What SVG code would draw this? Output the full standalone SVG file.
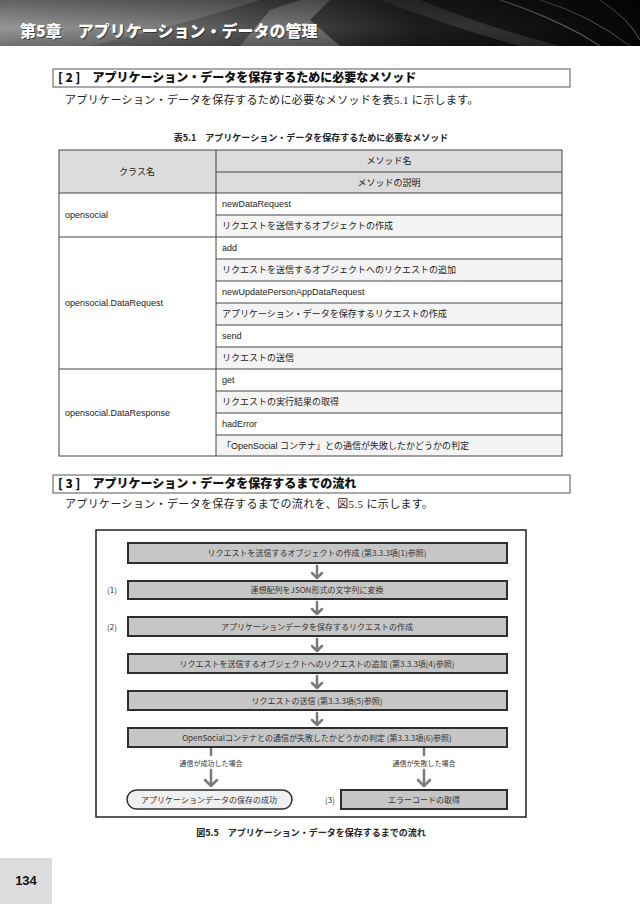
<svg xmlns="http://www.w3.org/2000/svg" width="640" height="904" viewBox="0 0 640 904">
<defs>
<linearGradient id="hdr" x1="0" y1="0" x2="1" y2="0">
<stop offset="0" stop-color="#8c8c8c"/>
<stop offset="0.35" stop-color="#5a5a5a"/>
<stop offset="0.65" stop-color="#1e1e1e"/>
<stop offset="1" stop-color="#050505"/>
</linearGradient>
<linearGradient id="hdr2" x1="0" y1="0" x2="0" y2="1">
<stop offset="0" stop-color="#000" stop-opacity="0.35"/>
<stop offset="0.6" stop-color="#000" stop-opacity="0"/>
<stop offset="1" stop-color="#000" stop-opacity="0.25"/>
</linearGradient>
<style>
.ser{font-family:"Liberation Serif","Noto Sans CJK JP",serif;font-size:11px;fill:#222;letter-spacing:0.35px;}
.sec{font-family:"Noto Sans CJK JP",sans-serif;font-size:12px;font-weight:900;fill:#111;}
.secbox{fill:none;stroke:#555;stroke-width:1;}
.cap{font-family:"Noto Sans CJK JP",sans-serif;font-size:9px;font-weight:bold;fill:#222;}
.cell{font-family:"Liberation Sans","Noto Sans CJK JP",sans-serif;font-size:9px;fill:#222;}
.hd{fill:#dcdcdc;}
.dsc{fill:#f4f4f4;}
.grid{stroke:#444;stroke-width:1;fill:none;}
.fbox{fill:#c6c6c6;stroke:#2e2e2e;stroke-width:2;}
.ftxt{font-family:"Noto Sans CJK JP",sans-serif;font-size:8px;fill:#333;text-anchor:middle;}
.small{font-family:"Noto Sans CJK JP",sans-serif;font-size:7px;fill:#333;text-anchor:middle;}
.arr{stroke:#7a7a7a;stroke-width:2.5;fill:none;stroke-linecap:round;stroke-linejoin:round;}
</style>
</defs>

<!-- header band -->
<g id="header">
<rect x="0" y="0" width="640" height="46" fill="url(#hdr)"/>
<path d="M0 0 L260 0 Q200 20 90 46 L0 46 Z" fill="#a8a8a8" opacity="0.35"/>
<path d="M240 46 L270 10 L300 0 L330 0 L310 20 L340 46 Z" fill="#9a9a9a" opacity="0.55"/>
<path d="M380 0 Q460 30 520 46 L560 46 Q480 25 420 0 Z" fill="#444" opacity="0.6"/>
<path d="M500 0 Q560 20 600 46" stroke="#888" stroke-width="1.2" fill="none" opacity="0.7"/>
<path d="M540 0 Q590 15 630 46" stroke="#777" stroke-width="1" fill="none" opacity="0.7"/>
<path d="M600 0 Q630 20 640 40" stroke="#999" stroke-width="1" fill="none" opacity="0.6"/>
<rect x="0" y="0" width="640" height="46" fill="url(#hdr2)"/>
<text x="21" y="38" font-family="Noto Sans CJK JP, sans-serif" font-size="16" font-weight="900" fill="#222" opacity="0.7">第5章　アプリケーション・データの管理</text>
<text x="20" y="37" font-family="Noto Sans CJK JP, sans-serif" font-size="16" font-weight="900" fill="#fff">第5章　アプリケーション・データの管理</text>
</g>

<!-- section 2 -->
<g id="section2">
<rect class="secbox" x="53" y="69" width="517" height="18"/>
<text class="sec" x="58" y="82">[ 2 ]　アプリケーション・データを保存するために必要なメソッド</text>
<text class="ser" x="65" y="104">アプリケーション・データを保存するために必要なメソッドを表5.1 に示します。</text>
</g>

<!-- table -->
<g id="table">
<text class="cap" x="311" y="141" text-anchor="middle">表5.1　アプリケーション・データを保存するために必要なメソッド</text>
<rect class="hd" x="59" y="150" width="503" height="43"/>
<rect class="dsc" x="216" y="215" width="346" height="22"/>
<rect class="dsc" x="216" y="259" width="346" height="22"/>
<rect class="dsc" x="216" y="303" width="346" height="22"/>
<rect class="dsc" x="216" y="347" width="346" height="22"/>
<rect class="dsc" x="216" y="391" width="346" height="22"/>
<rect class="dsc" x="216" y="435" width="346" height="21"/>
<rect class="grid" x="59" y="150" width="503" height="306" stroke-width="1.2"/>
<path class="grid" d="M216 150 V456 M216 172 H562 M59 193 H562 M216 215 H562 M59 237 H562 M216 259 H562 M216 281 H562 M216 303 H562 M216 325 H562 M216 347 H562 M59 369 H562 M216 391 H562 M216 413 H562 M216 435 H562"/>
<text class="cell" x="137" y="175" text-anchor="middle" font-size="10">クラス名</text>
<text class="cell" x="389" y="164" text-anchor="middle">メソッド名</text>
<text class="cell" x="389" y="186" text-anchor="middle">メソッドの説明</text>
<text class="cell" x="65" y="218">opensocial</text>
<text class="cell" x="65" y="306">opensocial.DataRequest</text>
<text class="cell" x="65" y="416">opensocial.DataResponse</text>
<text class="cell" x="222" y="207">newDataRequest</text>
<text class="cell" x="222" y="229">リクエストを送信するオブジェクトの作成</text>
<text class="cell" x="222" y="251">add</text>
<text class="cell" x="222" y="273">リクエストを送信するオブジェクトへのリクエストの追加</text>
<text class="cell" x="222" y="295">newUpdatePersonAppDataRequest</text>
<text class="cell" x="222" y="317">アプリケーション・データを保存するリクエストの作成</text>
<text class="cell" x="222" y="339">send</text>
<text class="cell" x="222" y="361">リクエストの送信</text>
<text class="cell" x="222" y="383">get</text>
<text class="cell" x="222" y="405">リクエストの実行結果の取得</text>
<text class="cell" x="222" y="427">hadError</text>
<text class="cell" x="222" y="449">「OpenSocial コンテナ」との通信が失敗したかどうかの判定</text>
</g>

<!-- section 3 -->
<g id="section3">
<rect class="secbox" x="53" y="475" width="517" height="18"/>
<text class="sec" x="58" y="488">[ 3 ]　アプリケーション・データを保存するまでの流れ</text>
<text class="ser" x="65" y="508">アプリケーション・データを保存するまでの流れを、図5.5 に示します。</text>
</g>

<!-- figure frame -->
<g id="figure-frame">
<rect x="96" y="530" width="430" height="287" fill="#fff" stroke="#222" stroke-width="1.5"/>
<text class="cap" x="311" y="836" text-anchor="middle">図5.5　アプリケーション・データを保存するまでの流れ</text>
</g>

<!-- connectors -->
<g id="connectors">
<path class="arr" d="M317 566 V578 M312 573 L317 578 L322 573"/>
<path class="arr" d="M317 602 V614 M312 609 L317 614 L322 609"/>
<path class="arr" d="M317 639 V651 M312 646 L317 651 L322 646"/>
<path class="arr" d="M317 676 V688 M312 683 L317 688 L322 683"/>
<path class="arr" d="M317 713 V725 M312 720 L317 725 L322 720"/>
<path class="arr" d="M211 749 V755"/>
<path class="arr" d="M211 770 V786 M205 780 L211 786 L217 780"/>
<path class="arr" d="M424 749 V755"/>
<path class="arr" d="M424 770 V786 M418 780 L424 786 L430 780"/>
<text class="small" x="211" y="766">通信が成功した場合</text>
<text class="small" x="424" y="766">通信が失敗した場合</text>
</g>

<g id="step1">
<rect class="fbox" x="128" y="543" width="379" height="20"/>
<text class="ftxt" x="317" y="556">リクエストを送信するオブジェクトの作成 (第3.3.3項(1)参照)</text>
</g>
<g id="step2">
<text class="ftxt" x="112" y="593">(1)</text>
<rect class="fbox" x="128" y="581" width="379" height="18"/>
<text class="ftxt" x="317" y="593">連想配列をJSON形式の文字列に変換</text>
</g>
<g id="step3">
<text class="ftxt" x="112" y="630">(2)</text>
<rect class="fbox" x="128" y="617" width="379" height="19"/>
<text class="ftxt" x="317" y="630">アプリケーションデータを保存するリクエストの作成</text>
</g>
<g id="step4">
<rect class="fbox" x="128" y="654" width="379" height="19"/>
<text class="ftxt" x="317" y="667">リクエストを送信するオブジェクトへのリクエストの追加 (第3.3.3項(4)参照)</text>
</g>
<g id="step5">
<rect class="fbox" x="128" y="691" width="379" height="19"/>
<text class="ftxt" x="317" y="704">リクエストの送信 (第3.3.3項(5)参照)</text>
</g>
<g id="step6">
<rect class="fbox" x="128" y="728" width="379" height="19"/>
<text class="ftxt" x="317" y="741">OpenSocialコンテナとの通信が失敗したかどうかの判定 (第3.3.3項(6)参照)</text>
</g>
<g id="success">
<rect x="127" y="790" width="165" height="19" rx="9.5" fill="#efefef" stroke="#2e2e2e" stroke-width="1.5"/>
<text class="ftxt" x="209" y="803">アプリケーションデータの保存の成功</text>
</g>
<g id="error">
<text class="ftxt" x="330" y="803">(3)</text>
<rect class="fbox" x="341" y="790" width="166" height="19"/>
<text class="ftxt" x="424" y="803">エラーコードの取得</text>
</g>

<!-- page number -->
<g id="page-number">
<rect x="0" y="858" width="52" height="46" fill="#dcdcdc"/>
<text x="26" y="885" text-anchor="middle" font-family="Liberation Sans, sans-serif" font-size="13" font-weight="bold" fill="#111">134</text>
</g>
</svg>
